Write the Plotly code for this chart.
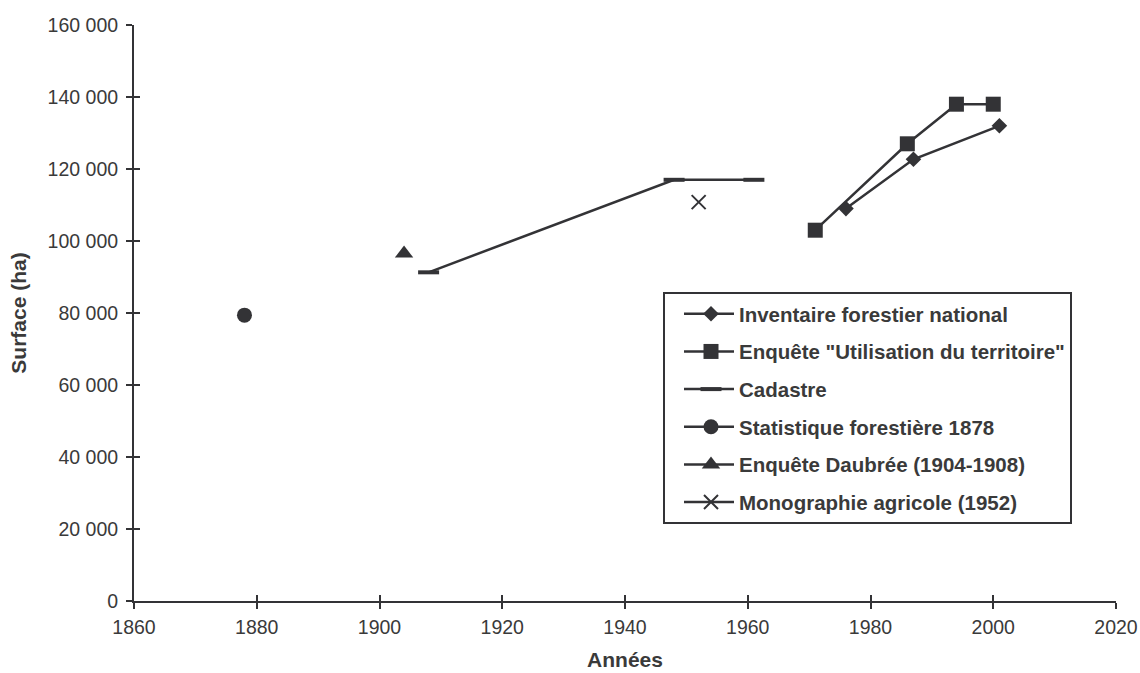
import plotly.graph_objects as go

# ---- data ----
ifn_years = [1976, 1987, 2001]
ifn_values = [109000, 122700, 132000]

enquete_years = [1971, 1986, 1994, 2000]
enquete_values = [103000, 127000, 138000, 138000]

cadastre_years = [1908, 1948, 1961]
cadastre_values = [91300, 117000, 117000]

stat1878_years = [1878]
stat1878_values = [79400]

daubree_years = [1904]
daubree_values = [96500]

monographie_years = [1952]
monographie_values = [110800]

series_names = [
    "Inventaire forestier national",
    "Enquête \"Utilisation du territoire\"",
    "Cadastre",
    "Statistique forestière 1878",
    "Enquête Daubrée (1904-1908)",
    "Monographie agricole (1952)",
]

x_tick_vals = [1860, 1880, 1900, 1920, 1940, 1960, 1980, 2000, 2020]
x_tick_text = ["1860", "1880", "1900", "1920", "1940", "1960", "1980", "2000", "2020"]
y_tick_vals = [0, 20000, 40000, 60000, 80000, 100000, 120000, 140000, 160000]
y_tick_text = ["0", "20 000", "40 000", "60 000", "80 000", "100 000", "120 000", "140 000", "160 000"]

# ---- style ----
DARK = "#333336"
TEXT = "#3a3a3a"
FONT = "Liberation Sans, Arial, sans-serif"

fig = go.Figure()

def add(xs, ys, name, symbol, size, mline=0):
    fig.add_trace(go.Scatter(
        x=xs, y=ys, name=name, mode="lines+markers",
        legendgroup=name,
        line=dict(color=DARK, width=2.5),
        marker=dict(symbol=symbol, size=size, color=DARK,
                    line=dict(color=DARK, width=mline)),
    ))

add(ifn_years, ifn_values, series_names[0], "diamond", 12)
add(enquete_years, enquete_values, series_names[1], "square", 15)
add(cadastre_years, cadastre_values, series_names[2], "line-ew", 15, mline=4)
add(stat1878_years, stat1878_values, series_names[3], "circle", 15)
add(daubree_years, daubree_values, series_names[4], "triangle-up", 16)
add(monographie_years, monographie_values, series_names[5], "x-thin", 14, mline=2)

axis_common = dict(
    showgrid=False, zeroline=False, automargin=False,
    showline=True, linecolor=DARK, linewidth=2,
    ticks="outside", ticklen=6, tickwidth=2, tickcolor=DARK,
    tickfont=dict(family=FONT, size=19.5, color=TEXT),
)

fig.update_layout(
    width=1140, height=673,
    margin=dict(l=134, r=24, t=25, b=72),
    paper_bgcolor="white", plot_bgcolor="white",
    font=dict(family=FONT, color=TEXT),
    xaxis=dict(
        range=[1860, 2020], tickvals=x_tick_vals, ticktext=x_tick_text,
        title=dict(text="Années", font=dict(family=FONT, size=21, color=TEXT, weight="bold")),
        ticklabelstandoff=2,
        **axis_common,
    ),
    yaxis=dict(
        range=[0, 160000], tickvals=y_tick_vals, ticktext=y_tick_text,
        title=dict(text="Surface (ha)", font=dict(family=FONT, size=21, color=TEXT, weight="bold")),
        ticklabelstandoff=4,
        **axis_common,
    ),
    xaxis2=dict(
        overlaying="x", range=[1860, 2020], tickvals=x_tick_vals,
        showticklabels=False, showgrid=False, zeroline=False, showline=False,
        ticks="inside", ticklen=6, tickwidth=2, tickcolor=DARK, side="bottom",
    ),
    yaxis2=dict(
        overlaying="y", range=[0, 160000], tickvals=y_tick_vals,
        showticklabels=False, showgrid=False, zeroline=False, showline=False,
        ticks="inside", ticklen=6, tickwidth=2, tickcolor=DARK, side="left",
    ),
    showlegend=True,
    legend=dict(
        x=0.5387, y=0.5365, xanchor="left", yanchor="top",
        bgcolor="white", bordercolor=DARK, borderwidth=2,
        font=dict(family=FONT, size=20.5, color=TEXT, weight="bold"),
        traceorder="grouped", tracegroupgap=8, itemwidth=64,
    ),
)

# invisible trace to activate overlay axes for crossing ticks
fig.add_trace(go.Scatter(x=[None], y=[None], xaxis="x2", yaxis="y2",
                         showlegend=False, hoverinfo="skip"))

# page without body margin; widen legend sample lines and centre markers on them
post = """
document.body.style.margin = '0';
var gd = document.getElementById('{plot_id}');
function fixLegend(){
  gd.querySelectorAll('.legend .traces').forEach(function(t){
    t.querySelectorAll('.legendlines path').forEach(function(p){ p.setAttribute('d','M19,0h50'); });
    t.querySelectorAll('.legendpoints').forEach(function(g){ g.setAttribute('transform','translate(9,0)'); });
  });
}
fixLegend();
gd.on('plotly_afterplot', fixLegend);
"""

fig.write_html("out.html", post_script=post, config={"displayModeBar": False})
